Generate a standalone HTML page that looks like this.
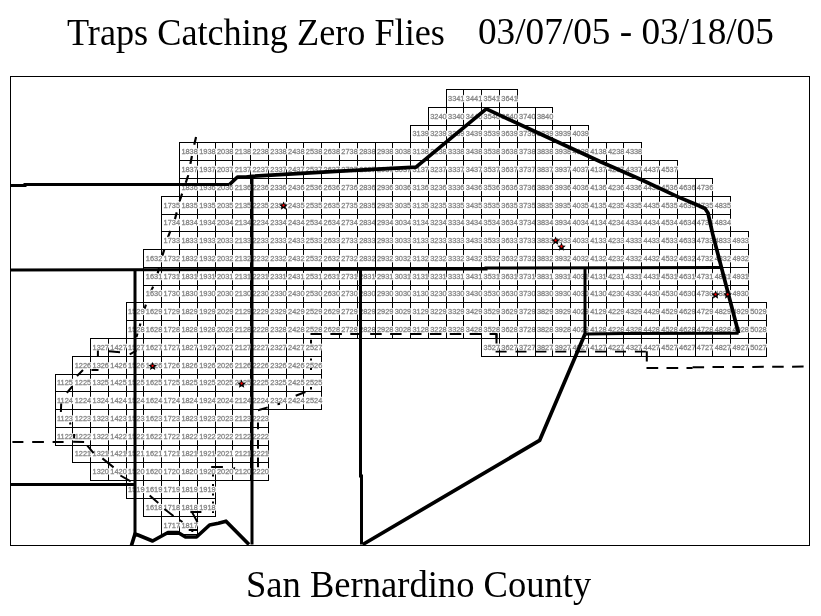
<!DOCTYPE html>
<html><head><meta charset="utf-8"><title>Traps Catching Zero Flies</title><style>
html,body{margin:0;padding:0;background:#fff;}
body{width:821px;height:616px;overflow:hidden;position:relative;}
.t{position:absolute;transform-origin:0 0;font-family:"Liberation Serif","Times New Roman",serif;color:#000;white-space:pre;line-height:1;}
svg{position:absolute;left:0;top:0;will-change:transform;}
</style></head><body>
<svg width="821" height="616" viewBox="0 0 821 616">
<rect x="10.5" y="76.5" width="799" height="469" fill="none" stroke="#000" stroke-width="1"/>
<path d="M446 89.5H518M446 107.5H518M446.5 89V108M463.5 89V108M481.5 89V108M499.5 89V108M517.5 89V108M428 107.5H553M428 125.5H553M428.5 107V126M446.5 107V126M463.5 107V126M481.5 107V126M499.5 107V126M517.5 107V126M535.5 107V126M552.5 107V126M410 125.5H589M410 142.5H589M410.5 125V143M428.5 125V143M446.5 125V143M463.5 125V143M481.5 125V143M499.5 125V143M517.5 125V143M535.5 125V143M552.5 125V143M570.5 125V143M588.5 125V143M179 142.5H642M179 160.5H642M179.5 142V161M197.5 142V161M215.5 142V161M232.5 142V161M250.5 142V161M268.5 142V161M286.5 142V161M303.5 142V161M321.5 142V161M339.5 142V161M357.5 142V161M375.5 142V161M392.5 142V161M410.5 142V161M428.5 142V161M446.5 142V161M463.5 142V161M481.5 142V161M499.5 142V161M517.5 142V161M535.5 142V161M552.5 142V161M570.5 142V161M588.5 142V161M606.5 142V161M623.5 142V161M641.5 142V161M179 160.5H678M179 178.5H678M179.5 160V179M197.5 160V179M215.5 160V179M232.5 160V179M250.5 160V179M268.5 160V179M286.5 160V179M303.5 160V179M321.5 160V179M339.5 160V179M357.5 160V179M375.5 160V179M392.5 160V179M410.5 160V179M428.5 160V179M446.5 160V179M463.5 160V179M481.5 160V179M499.5 160V179M517.5 160V179M535.5 160V179M552.5 160V179M570.5 160V179M588.5 160V179M606.5 160V179M623.5 160V179M641.5 160V179M659.5 160V179M677.5 160V179M179 178.5H713M179 196.5H713M179.5 178V197M197.5 178V197M215.5 178V197M232.5 178V197M250.5 178V197M268.5 178V197M286.5 178V197M303.5 178V197M321.5 178V197M339.5 178V197M357.5 178V197M375.5 178V197M392.5 178V197M410.5 178V197M428.5 178V197M446.5 178V197M463.5 178V197M481.5 178V197M499.5 178V197M517.5 178V197M535.5 178V197M552.5 178V197M570.5 178V197M588.5 178V197M606.5 178V197M623.5 178V197M641.5 178V197M659.5 178V197M677.5 178V197M695.5 178V197M712.5 178V197M161 196.5H731M161 214.5H731M161.5 196V215M179.5 196V215M197.5 196V215M215.5 196V215M232.5 196V215M250.5 196V215M268.5 196V215M286.5 196V215M303.5 196V215M321.5 196V215M339.5 196V215M357.5 196V215M375.5 196V215M392.5 196V215M410.5 196V215M428.5 196V215M446.5 196V215M463.5 196V215M481.5 196V215M499.5 196V215M517.5 196V215M535.5 196V215M552.5 196V215M570.5 196V215M588.5 196V215M606.5 196V215M623.5 196V215M641.5 196V215M659.5 196V215M677.5 196V215M695.5 196V215M712.5 196V215M730.5 196V215M161 214.5H731M161 231.5H731M161.5 214V232M179.5 214V232M197.5 214V232M215.5 214V232M232.5 214V232M250.5 214V232M268.5 214V232M286.5 214V232M303.5 214V232M321.5 214V232M339.5 214V232M357.5 214V232M375.5 214V232M392.5 214V232M410.5 214V232M428.5 214V232M446.5 214V232M463.5 214V232M481.5 214V232M499.5 214V232M517.5 214V232M535.5 214V232M552.5 214V232M570.5 214V232M588.5 214V232M606.5 214V232M623.5 214V232M641.5 214V232M659.5 214V232M677.5 214V232M695.5 214V232M712.5 214V232M730.5 214V232M161 231.5H749M161 249.5H749M161.5 231V250M179.5 231V250M197.5 231V250M215.5 231V250M232.5 231V250M250.5 231V250M268.5 231V250M286.5 231V250M303.5 231V250M321.5 231V250M339.5 231V250M357.5 231V250M375.5 231V250M392.5 231V250M410.5 231V250M428.5 231V250M446.5 231V250M463.5 231V250M481.5 231V250M499.5 231V250M517.5 231V250M535.5 231V250M552.5 231V250M570.5 231V250M588.5 231V250M606.5 231V250M623.5 231V250M641.5 231V250M659.5 231V250M677.5 231V250M695.5 231V250M712.5 231V250M730.5 231V250M748.5 231V250M143 249.5H749M143 267.5H749M143.5 249V268M161.5 249V268M179.5 249V268M197.5 249V268M215.5 249V268M232.5 249V268M250.5 249V268M268.5 249V268M286.5 249V268M303.5 249V268M321.5 249V268M339.5 249V268M357.5 249V268M375.5 249V268M392.5 249V268M410.5 249V268M428.5 249V268M446.5 249V268M463.5 249V268M481.5 249V268M499.5 249V268M517.5 249V268M535.5 249V268M552.5 249V268M570.5 249V268M588.5 249V268M606.5 249V268M623.5 249V268M641.5 249V268M659.5 249V268M677.5 249V268M695.5 249V268M712.5 249V268M730.5 249V268M748.5 249V268M143 267.5H749M143 285.5H749M143.5 267V286M161.5 267V286M179.5 267V286M197.5 267V286M215.5 267V286M232.5 267V286M250.5 267V286M268.5 267V286M286.5 267V286M303.5 267V286M321.5 267V286M339.5 267V286M357.5 267V286M375.5 267V286M392.5 267V286M410.5 267V286M428.5 267V286M446.5 267V286M463.5 267V286M481.5 267V286M499.5 267V286M517.5 267V286M535.5 267V286M552.5 267V286M570.5 267V286M588.5 267V286M606.5 267V286M623.5 267V286M641.5 267V286M659.5 267V286M677.5 267V286M695.5 267V286M712.5 267V286M730.5 267V286M748.5 267V286M143 285.5H749M143 302.5H749M143.5 285V303M161.5 285V303M179.5 285V303M197.5 285V303M215.5 285V303M232.5 285V303M250.5 285V303M268.5 285V303M286.5 285V303M303.5 285V303M321.5 285V303M339.5 285V303M357.5 285V303M375.5 285V303M392.5 285V303M410.5 285V303M428.5 285V303M446.5 285V303M463.5 285V303M481.5 285V303M499.5 285V303M517.5 285V303M535.5 285V303M552.5 285V303M570.5 285V303M588.5 285V303M606.5 285V303M623.5 285V303M641.5 285V303M659.5 285V303M677.5 285V303M695.5 285V303M712.5 285V303M730.5 285V303M748.5 285V303M126 302.5H767M126 320.5H767M126.5 302V321M143.5 302V321M161.5 302V321M179.5 302V321M197.5 302V321M215.5 302V321M232.5 302V321M250.5 302V321M268.5 302V321M286.5 302V321M303.5 302V321M321.5 302V321M339.5 302V321M357.5 302V321M375.5 302V321M392.5 302V321M410.5 302V321M428.5 302V321M446.5 302V321M463.5 302V321M481.5 302V321M499.5 302V321M517.5 302V321M535.5 302V321M552.5 302V321M570.5 302V321M588.5 302V321M606.5 302V321M623.5 302V321M641.5 302V321M659.5 302V321M677.5 302V321M695.5 302V321M712.5 302V321M730.5 302V321M748.5 302V321M766.5 302V321M126 320.5H767M126 338.5H767M126.5 320V339M143.5 320V339M161.5 320V339M179.5 320V339M197.5 320V339M215.5 320V339M232.5 320V339M250.5 320V339M268.5 320V339M286.5 320V339M303.5 320V339M321.5 320V339M339.5 320V339M357.5 320V339M375.5 320V339M392.5 320V339M410.5 320V339M428.5 320V339M446.5 320V339M463.5 320V339M481.5 320V339M499.5 320V339M517.5 320V339M535.5 320V339M552.5 320V339M570.5 320V339M588.5 320V339M606.5 320V339M623.5 320V339M641.5 320V339M659.5 320V339M677.5 320V339M695.5 320V339M712.5 320V339M730.5 320V339M748.5 320V339M766.5 320V339M90 338.5H322M90 356.5H322M90.5 338V357M108.5 338V357M126.5 338V357M143.5 338V357M161.5 338V357M179.5 338V357M197.5 338V357M215.5 338V357M232.5 338V357M250.5 338V357M268.5 338V357M286.5 338V357M303.5 338V357M321.5 338V357M481 338.5H767M481 356.5H767M481.5 338V357M499.5 338V357M517.5 338V357M535.5 338V357M552.5 338V357M570.5 338V357M588.5 338V357M606.5 338V357M623.5 338V357M641.5 338V357M659.5 338V357M677.5 338V357M695.5 338V357M712.5 338V357M730.5 338V357M748.5 338V357M766.5 338V357M72 356.5H322M72 374.5H322M72.5 356V375M90.5 356V375M108.5 356V375M126.5 356V375M143.5 356V375M161.5 356V375M179.5 356V375M197.5 356V375M215.5 356V375M232.5 356V375M250.5 356V375M268.5 356V375M286.5 356V375M303.5 356V375M321.5 356V375M55 374.5H322M55 391.5H322M55.5 374V392M72.5 374V392M90.5 374V392M108.5 374V392M126.5 374V392M143.5 374V392M161.5 374V392M179.5 374V392M197.5 374V392M215.5 374V392M232.5 374V392M250.5 374V392M268.5 374V392M286.5 374V392M303.5 374V392M321.5 374V392M55 391.5H322M55 409.5H322M55.5 391V410M72.5 391V410M90.5 391V410M108.5 391V410M126.5 391V410M143.5 391V410M161.5 391V410M179.5 391V410M197.5 391V410M215.5 391V410M232.5 391V410M250.5 391V410M268.5 391V410M286.5 391V410M303.5 391V410M321.5 391V410M55 409.5H269M55 427.5H269M55.5 409V428M72.5 409V428M90.5 409V428M108.5 409V428M126.5 409V428M143.5 409V428M161.5 409V428M179.5 409V428M197.5 409V428M215.5 409V428M232.5 409V428M250.5 409V428M268.5 409V428M55 427.5H269M55 445.5H269M55.5 427V446M72.5 427V446M90.5 427V446M108.5 427V446M126.5 427V446M143.5 427V446M161.5 427V446M179.5 427V446M197.5 427V446M215.5 427V446M232.5 427V446M250.5 427V446M268.5 427V446M72 445.5H269M72 462.5H269M72.5 445V463M90.5 445V463M108.5 445V463M126.5 445V463M143.5 445V463M161.5 445V463M179.5 445V463M197.5 445V463M215.5 445V463M232.5 445V463M250.5 445V463M268.5 445V463M90 462.5H269M90 480.5H269M90.5 462V481M108.5 462V481M126.5 462V481M143.5 462V481M161.5 462V481M179.5 462V481M197.5 462V481M215.5 462V481M232.5 462V481M250.5 462V481M268.5 462V481M126 480.5H216M126 498.5H216M126.5 480V499M143.5 480V499M161.5 480V499M179.5 480V499M197.5 480V499M215.5 480V499M143 498.5H216M143 516.5H216M143.5 498V517M161.5 498V517M179.5 498V517M197.5 498V517M215.5 498V517M161 516.5H198M161 534.5H198M161.5 516V535M179.5 516V535M197.5 516V535" stroke="#000" stroke-width="1" fill="none" shape-rendering="crispEdges"/>
<g fill="none" stroke="#000" stroke-width="2"><polyline points="196.5,135 193.5,148 188,176 180,200 175,219 168,237 162,257 155.6,281 148,298 142,317 137,337" stroke-dasharray="8 11.5" stroke-dashoffset="-2" stroke-width="2.2"/></g>
<g font-family="Liberation Sans, Arial, sans-serif" font-size="7.4" >
<g fill="#fff" stroke="#fff" stroke-width="2.4" stroke-linejoin="round"><text x="448.02" y="101">3341</text><text x="465.80" y="101">3441</text><text x="483.57" y="101">3541</text><text x="501.34" y="101">3641</text><text x="430.25" y="119">3240</text><text x="448.02" y="119">3340</text><text x="465.80" y="119">3440</text><text x="483.57" y="119">3540</text><text x="501.34" y="119">3640</text><text x="519.12" y="119">3740</text><text x="536.89" y="119">3840</text><text x="412.47" y="136">3139</text><text x="430.25" y="136">3239</text><text x="448.02" y="136">3339</text><text x="465.80" y="136">3439</text><text x="483.57" y="136">3539</text><text x="501.34" y="136">3639</text><text x="519.12" y="136">3739</text><text x="536.89" y="136">3839</text><text x="554.67" y="136">3939</text><text x="572.44" y="136">4039</text><text x="181.39" y="154">1838</text><text x="199.17" y="154">1938</text><text x="216.94" y="154">2038</text><text x="234.72" y="154">2138</text><text x="252.49" y="154">2238</text><text x="270.27" y="154">2338</text><text x="288.05" y="154">2438</text><text x="305.82" y="154">2538</text><text x="323.60" y="154">2638</text><text x="341.37" y="154">2738</text><text x="359.14" y="154">2838</text><text x="376.92" y="154">2938</text><text x="394.69" y="154">3038</text><text x="412.47" y="154">3138</text><text x="430.25" y="154">3238</text><text x="448.02" y="154">3338</text><text x="465.80" y="154">3438</text><text x="483.57" y="154">3538</text><text x="501.34" y="154">3638</text><text x="519.12" y="154">3738</text><text x="536.89" y="154">3838</text><text x="554.67" y="154">3938</text><text x="572.44" y="154">4038</text><text x="590.22" y="154">4138</text><text x="608.00" y="154">4238</text><text x="625.77" y="154">4338</text><text x="181.39" y="172">1837</text><text x="199.17" y="172">1937</text><text x="216.94" y="172">2037</text><text x="234.72" y="172">2137</text><text x="252.49" y="172">2237</text><text x="270.27" y="172">2337</text><text x="288.05" y="172">2437</text><text x="305.82" y="172">2537</text><text x="323.60" y="172">2637</text><text x="341.37" y="172">2737</text><text x="359.14" y="172">2837</text><text x="376.92" y="172">2937</text><text x="394.69" y="172">3037</text><text x="412.47" y="172">3137</text><text x="430.25" y="172">3237</text><text x="448.02" y="172">3337</text><text x="465.80" y="172">3437</text><text x="483.57" y="172">3537</text><text x="501.34" y="172">3637</text><text x="519.12" y="172">3737</text><text x="536.89" y="172">3837</text><text x="554.67" y="172">3937</text><text x="572.44" y="172">4037</text><text x="590.22" y="172">4137</text><text x="608.00" y="172">4237</text><text x="625.77" y="172">4337</text><text x="643.54" y="172">4437</text><text x="661.32" y="172">4537</text><text x="181.39" y="190">1836</text><text x="199.17" y="190">1936</text><text x="216.94" y="190">2036</text><text x="234.72" y="190">2136</text><text x="252.49" y="190">2236</text><text x="270.27" y="190">2336</text><text x="288.05" y="190">2436</text><text x="305.82" y="190">2536</text><text x="323.60" y="190">2636</text><text x="341.37" y="190">2736</text><text x="359.14" y="190">2836</text><text x="376.92" y="190">2936</text><text x="394.69" y="190">3036</text><text x="412.47" y="190">3136</text><text x="430.25" y="190">3236</text><text x="448.02" y="190">3336</text><text x="465.80" y="190">3436</text><text x="483.57" y="190">3536</text><text x="501.34" y="190">3636</text><text x="519.12" y="190">3736</text><text x="536.89" y="190">3836</text><text x="554.67" y="190">3936</text><text x="572.44" y="190">4036</text><text x="590.22" y="190">4136</text><text x="608.00" y="190">4236</text><text x="625.77" y="190">4336</text><text x="643.54" y="190">4436</text><text x="661.32" y="190">4536</text><text x="679.10" y="190">4636</text><text x="696.87" y="190">4736</text><text x="163.62" y="208">1735</text><text x="181.39" y="208">1835</text><text x="199.17" y="208">1935</text><text x="216.94" y="208">2035</text><text x="234.72" y="208">2135</text><text x="252.49" y="208">2235</text><text x="270.27" y="208">2335</text><text x="288.05" y="208">2435</text><text x="305.82" y="208">2535</text><text x="323.60" y="208">2635</text><text x="341.37" y="208">2735</text><text x="359.14" y="208">2835</text><text x="376.92" y="208">2935</text><text x="394.69" y="208">3035</text><text x="412.47" y="208">3135</text><text x="430.25" y="208">3235</text><text x="448.02" y="208">3335</text><text x="465.80" y="208">3435</text><text x="483.57" y="208">3535</text><text x="501.34" y="208">3635</text><text x="519.12" y="208">3735</text><text x="536.89" y="208">3835</text><text x="554.67" y="208">3935</text><text x="572.44" y="208">4035</text><text x="590.22" y="208">4135</text><text x="608.00" y="208">4235</text><text x="625.77" y="208">4335</text><text x="643.54" y="208">4435</text><text x="661.32" y="208">4535</text><text x="679.10" y="208">4635</text><text x="696.87" y="208">4735</text><text x="714.64" y="208">4835</text><text x="163.62" y="225">1734</text><text x="181.39" y="225">1834</text><text x="199.17" y="225">1934</text><text x="216.94" y="225">2034</text><text x="234.72" y="225">2134</text><text x="252.49" y="225">2234</text><text x="270.27" y="225">2334</text><text x="288.05" y="225">2434</text><text x="305.82" y="225">2534</text><text x="323.60" y="225">2634</text><text x="341.37" y="225">2734</text><text x="359.14" y="225">2834</text><text x="376.92" y="225">2934</text><text x="394.69" y="225">3034</text><text x="412.47" y="225">3134</text><text x="430.25" y="225">3234</text><text x="448.02" y="225">3334</text><text x="465.80" y="225">3434</text><text x="483.57" y="225">3534</text><text x="501.34" y="225">3634</text><text x="519.12" y="225">3734</text><text x="536.89" y="225">3834</text><text x="554.67" y="225">3934</text><text x="572.44" y="225">4034</text><text x="590.22" y="225">4134</text><text x="608.00" y="225">4234</text><text x="625.77" y="225">4334</text><text x="643.54" y="225">4434</text><text x="661.32" y="225">4534</text><text x="679.10" y="225">4634</text><text x="696.87" y="225">4734</text><text x="714.64" y="225">4834</text><text x="163.62" y="243">1733</text><text x="181.39" y="243">1833</text><text x="199.17" y="243">1933</text><text x="216.94" y="243">2033</text><text x="234.72" y="243">2133</text><text x="252.49" y="243">2233</text><text x="270.27" y="243">2333</text><text x="288.05" y="243">2433</text><text x="305.82" y="243">2533</text><text x="323.60" y="243">2633</text><text x="341.37" y="243">2733</text><text x="359.14" y="243">2833</text><text x="376.92" y="243">2933</text><text x="394.69" y="243">3033</text><text x="412.47" y="243">3133</text><text x="430.25" y="243">3233</text><text x="448.02" y="243">3333</text><text x="465.80" y="243">3433</text><text x="483.57" y="243">3533</text><text x="501.34" y="243">3633</text><text x="519.12" y="243">3733</text><text x="536.89" y="243">3833</text><text x="554.67" y="243">3933</text><text x="572.44" y="243">4033</text><text x="590.22" y="243">4133</text><text x="608.00" y="243">4233</text><text x="625.77" y="243">4333</text><text x="643.54" y="243">4433</text><text x="661.32" y="243">4533</text><text x="679.10" y="243">4633</text><text x="696.87" y="243">4733</text><text x="714.64" y="243">4833</text><text x="732.42" y="243">4933</text><text x="145.84" y="261">1632</text><text x="163.62" y="261">1732</text><text x="181.39" y="261">1832</text><text x="199.17" y="261">1932</text><text x="216.94" y="261">2032</text><text x="234.72" y="261">2132</text><text x="252.49" y="261">2232</text><text x="270.27" y="261">2332</text><text x="288.05" y="261">2432</text><text x="305.82" y="261">2532</text><text x="323.60" y="261">2632</text><text x="341.37" y="261">2732</text><text x="359.14" y="261">2832</text><text x="376.92" y="261">2932</text><text x="394.69" y="261">3032</text><text x="412.47" y="261">3132</text><text x="430.25" y="261">3232</text><text x="448.02" y="261">3332</text><text x="465.80" y="261">3432</text><text x="483.57" y="261">3532</text><text x="501.34" y="261">3632</text><text x="519.12" y="261">3732</text><text x="536.89" y="261">3832</text><text x="554.67" y="261">3932</text><text x="572.44" y="261">4032</text><text x="590.22" y="261">4132</text><text x="608.00" y="261">4232</text><text x="625.77" y="261">4332</text><text x="643.54" y="261">4432</text><text x="661.32" y="261">4532</text><text x="679.10" y="261">4632</text><text x="696.87" y="261">4732</text><text x="714.64" y="261">4832</text><text x="732.42" y="261">4932</text><text x="145.84" y="279">1631</text><text x="163.62" y="279">1731</text><text x="181.39" y="279">1831</text><text x="199.17" y="279">1931</text><text x="216.94" y="279">2031</text><text x="234.72" y="279">2131</text><text x="252.49" y="279">2231</text><text x="270.27" y="279">2331</text><text x="288.05" y="279">2431</text><text x="305.82" y="279">2531</text><text x="323.60" y="279">2631</text><text x="341.37" y="279">2731</text><text x="359.14" y="279">2831</text><text x="376.92" y="279">2931</text><text x="394.69" y="279">3031</text><text x="412.47" y="279">3131</text><text x="430.25" y="279">3231</text><text x="448.02" y="279">3331</text><text x="465.80" y="279">3431</text><text x="483.57" y="279">3531</text><text x="501.34" y="279">3631</text><text x="519.12" y="279">3731</text><text x="536.89" y="279">3831</text><text x="554.67" y="279">3931</text><text x="572.44" y="279">4031</text><text x="590.22" y="279">4131</text><text x="608.00" y="279">4231</text><text x="625.77" y="279">4331</text><text x="643.54" y="279">4431</text><text x="661.32" y="279">4531</text><text x="679.10" y="279">4631</text><text x="696.87" y="279">4731</text><text x="714.64" y="279">4831</text><text x="732.42" y="279">4931</text><text x="145.84" y="296">1630</text><text x="163.62" y="296">1730</text><text x="181.39" y="296">1830</text><text x="199.17" y="296">1930</text><text x="216.94" y="296">2030</text><text x="234.72" y="296">2130</text><text x="252.49" y="296">2230</text><text x="270.27" y="296">2330</text><text x="288.05" y="296">2430</text><text x="305.82" y="296">2530</text><text x="323.60" y="296">2630</text><text x="341.37" y="296">2730</text><text x="359.14" y="296">2830</text><text x="376.92" y="296">2930</text><text x="394.69" y="296">3030</text><text x="412.47" y="296">3130</text><text x="430.25" y="296">3230</text><text x="448.02" y="296">3330</text><text x="465.80" y="296">3430</text><text x="483.57" y="296">3530</text><text x="501.34" y="296">3630</text><text x="519.12" y="296">3730</text><text x="536.89" y="296">3830</text><text x="554.67" y="296">3930</text><text x="572.44" y="296">4030</text><text x="590.22" y="296">4130</text><text x="608.00" y="296">4230</text><text x="625.77" y="296">4330</text><text x="643.54" y="296">4430</text><text x="661.32" y="296">4530</text><text x="679.10" y="296">4630</text><text x="696.87" y="296">4730</text><text x="714.64" y="296">4830</text><text x="732.42" y="296">4930</text><text x="128.07" y="314">1529</text><text x="145.84" y="314">1629</text><text x="163.62" y="314">1729</text><text x="181.39" y="314">1829</text><text x="199.17" y="314">1929</text><text x="216.94" y="314">2029</text><text x="234.72" y="314">2129</text><text x="252.49" y="314">2229</text><text x="270.27" y="314">2329</text><text x="288.05" y="314">2429</text><text x="305.82" y="314">2529</text><text x="323.60" y="314">2629</text><text x="341.37" y="314">2729</text><text x="359.14" y="314">2829</text><text x="376.92" y="314">2929</text><text x="394.69" y="314">3029</text><text x="412.47" y="314">3129</text><text x="430.25" y="314">3229</text><text x="448.02" y="314">3329</text><text x="465.80" y="314">3429</text><text x="483.57" y="314">3529</text><text x="501.34" y="314">3629</text><text x="519.12" y="314">3729</text><text x="536.89" y="314">3829</text><text x="554.67" y="314">3929</text><text x="572.44" y="314">4029</text><text x="590.22" y="314">4129</text><text x="608.00" y="314">4229</text><text x="625.77" y="314">4329</text><text x="643.54" y="314">4429</text><text x="661.32" y="314">4529</text><text x="679.10" y="314">4629</text><text x="696.87" y="314">4729</text><text x="714.64" y="314">4829</text><text x="732.42" y="314">4929</text><text x="750.19" y="314">5029</text><text x="128.07" y="332">1528</text><text x="145.84" y="332">1628</text><text x="163.62" y="332">1728</text><text x="181.39" y="332">1828</text><text x="199.17" y="332">1928</text><text x="216.94" y="332">2028</text><text x="234.72" y="332">2128</text><text x="252.49" y="332">2228</text><text x="270.27" y="332">2328</text><text x="288.05" y="332">2428</text><text x="305.82" y="332">2528</text><text x="323.60" y="332">2628</text><text x="341.37" y="332">2728</text><text x="359.14" y="332">2828</text><text x="376.92" y="332">2928</text><text x="394.69" y="332">3028</text><text x="412.47" y="332">3128</text><text x="430.25" y="332">3228</text><text x="448.02" y="332">3328</text><text x="465.80" y="332">3428</text><text x="483.57" y="332">3528</text><text x="501.34" y="332">3628</text><text x="519.12" y="332">3728</text><text x="536.89" y="332">3828</text><text x="554.67" y="332">3928</text><text x="572.44" y="332">4028</text><text x="590.22" y="332">4128</text><text x="608.00" y="332">4228</text><text x="625.77" y="332">4328</text><text x="643.54" y="332">4428</text><text x="661.32" y="332">4528</text><text x="679.10" y="332">4628</text><text x="696.87" y="332">4728</text><text x="714.64" y="332">4828</text><text x="732.42" y="332">4928</text><text x="750.19" y="332">5028</text><text x="92.52" y="350">1327</text><text x="110.30" y="350">1427</text><text x="128.07" y="350">1527</text><text x="145.84" y="350">1627</text><text x="163.62" y="350">1727</text><text x="181.39" y="350">1827</text><text x="199.17" y="350">1927</text><text x="216.94" y="350">2027</text><text x="234.72" y="350">2127</text><text x="252.49" y="350">2227</text><text x="270.27" y="350">2327</text><text x="288.05" y="350">2427</text><text x="305.82" y="350">2527</text><text x="483.57" y="350">3527</text><text x="501.34" y="350">3627</text><text x="519.12" y="350">3727</text><text x="536.89" y="350">3827</text><text x="554.67" y="350">3927</text><text x="572.44" y="350">4027</text><text x="590.22" y="350">4127</text><text x="608.00" y="350">4227</text><text x="625.77" y="350">4327</text><text x="643.54" y="350">4427</text><text x="661.32" y="350">4527</text><text x="679.10" y="350">4627</text><text x="696.87" y="350">4727</text><text x="714.64" y="350">4827</text><text x="732.42" y="350">4927</text><text x="750.19" y="350">5027</text><text x="74.75" y="368">1226</text><text x="92.52" y="368">1326</text><text x="110.30" y="368">1426</text><text x="128.07" y="368">1526</text><text x="145.84" y="368">1626</text><text x="163.62" y="368">1726</text><text x="181.39" y="368">1826</text><text x="199.17" y="368">1926</text><text x="216.94" y="368">2026</text><text x="234.72" y="368">2126</text><text x="252.49" y="368">2226</text><text x="270.27" y="368">2326</text><text x="288.05" y="368">2426</text><text x="305.82" y="368">2526</text><text x="56.97" y="385">1125</text><text x="74.75" y="385">1225</text><text x="92.52" y="385">1325</text><text x="110.30" y="385">1425</text><text x="128.07" y="385">1525</text><text x="145.84" y="385">1625</text><text x="163.62" y="385">1725</text><text x="181.39" y="385">1825</text><text x="199.17" y="385">1925</text><text x="216.94" y="385">2025</text><text x="234.72" y="385">2125</text><text x="252.49" y="385">2225</text><text x="270.27" y="385">2325</text><text x="288.05" y="385">2425</text><text x="305.82" y="385">2525</text><text x="56.97" y="403">1124</text><text x="74.75" y="403">1224</text><text x="92.52" y="403">1324</text><text x="110.30" y="403">1424</text><text x="128.07" y="403">1524</text><text x="145.84" y="403">1624</text><text x="163.62" y="403">1724</text><text x="181.39" y="403">1824</text><text x="199.17" y="403">1924</text><text x="216.94" y="403">2024</text><text x="234.72" y="403">2124</text><text x="252.49" y="403">2224</text><text x="270.27" y="403">2324</text><text x="288.05" y="403">2424</text><text x="305.82" y="403">2524</text><text x="56.97" y="421">1123</text><text x="74.75" y="421">1223</text><text x="92.52" y="421">1323</text><text x="110.30" y="421">1423</text><text x="128.07" y="421">1523</text><text x="145.84" y="421">1623</text><text x="163.62" y="421">1723</text><text x="181.39" y="421">1823</text><text x="199.17" y="421">1923</text><text x="216.94" y="421">2023</text><text x="234.72" y="421">2123</text><text x="252.49" y="421">2223</text><text x="56.97" y="439">1122</text><text x="74.75" y="439">1222</text><text x="92.52" y="439">1322</text><text x="110.30" y="439">1422</text><text x="128.07" y="439">1522</text><text x="145.84" y="439">1622</text><text x="163.62" y="439">1722</text><text x="181.39" y="439">1822</text><text x="199.17" y="439">1922</text><text x="216.94" y="439">2022</text><text x="234.72" y="439">2122</text><text x="252.49" y="439">2222</text><text x="74.75" y="456">1221</text><text x="92.52" y="456">1321</text><text x="110.30" y="456">1421</text><text x="128.07" y="456">1521</text><text x="145.84" y="456">1621</text><text x="163.62" y="456">1721</text><text x="181.39" y="456">1821</text><text x="199.17" y="456">1921</text><text x="216.94" y="456">2021</text><text x="234.72" y="456">2121</text><text x="252.49" y="456">2221</text><text x="92.52" y="474">1320</text><text x="110.30" y="474">1420</text><text x="128.07" y="474">1520</text><text x="145.84" y="474">1620</text><text x="163.62" y="474">1720</text><text x="181.39" y="474">1820</text><text x="199.17" y="474">1920</text><text x="216.94" y="474">2020</text><text x="234.72" y="474">2120</text><text x="252.49" y="474">2220</text><text x="128.07" y="492">1519</text><text x="145.84" y="492">1619</text><text x="163.62" y="492">1719</text><text x="181.39" y="492">1819</text><text x="199.17" y="492">1919</text><text x="145.84" y="510">1618</text><text x="163.62" y="510">1718</text><text x="181.39" y="510">1818</text><text x="199.17" y="510">1918</text><text x="163.62" y="528">1717</text><text x="181.39" y="528">1817</text></g>
<g fill="#878787" stroke="#878787" stroke-width="0.3"><text x="448.02" y="101">3341</text><text x="465.80" y="101">3441</text><text x="483.57" y="101">3541</text><text x="501.34" y="101">3641</text><text x="430.25" y="119">3240</text><text x="448.02" y="119">3340</text><text x="465.80" y="119">3440</text><text x="483.57" y="119">3540</text><text x="501.34" y="119">3640</text><text x="519.12" y="119">3740</text><text x="536.89" y="119">3840</text><text x="412.47" y="136">3139</text><text x="430.25" y="136">3239</text><text x="448.02" y="136">3339</text><text x="465.80" y="136">3439</text><text x="483.57" y="136">3539</text><text x="501.34" y="136">3639</text><text x="519.12" y="136">3739</text><text x="536.89" y="136">3839</text><text x="554.67" y="136">3939</text><text x="572.44" y="136">4039</text><text x="181.39" y="154">1838</text><text x="199.17" y="154">1938</text><text x="216.94" y="154">2038</text><text x="234.72" y="154">2138</text><text x="252.49" y="154">2238</text><text x="270.27" y="154">2338</text><text x="288.05" y="154">2438</text><text x="305.82" y="154">2538</text><text x="323.60" y="154">2638</text><text x="341.37" y="154">2738</text><text x="359.14" y="154">2838</text><text x="376.92" y="154">2938</text><text x="394.69" y="154">3038</text><text x="412.47" y="154">3138</text><text x="430.25" y="154">3238</text><text x="448.02" y="154">3338</text><text x="465.80" y="154">3438</text><text x="483.57" y="154">3538</text><text x="501.34" y="154">3638</text><text x="519.12" y="154">3738</text><text x="536.89" y="154">3838</text><text x="554.67" y="154">3938</text><text x="572.44" y="154">4038</text><text x="590.22" y="154">4138</text><text x="608.00" y="154">4238</text><text x="625.77" y="154">4338</text><text x="181.39" y="172">1837</text><text x="199.17" y="172">1937</text><text x="216.94" y="172">2037</text><text x="234.72" y="172">2137</text><text x="252.49" y="172">2237</text><text x="270.27" y="172">2337</text><text x="288.05" y="172">2437</text><text x="305.82" y="172">2537</text><text x="323.60" y="172">2637</text><text x="341.37" y="172">2737</text><text x="359.14" y="172">2837</text><text x="376.92" y="172">2937</text><text x="394.69" y="172">3037</text><text x="412.47" y="172">3137</text><text x="430.25" y="172">3237</text><text x="448.02" y="172">3337</text><text x="465.80" y="172">3437</text><text x="483.57" y="172">3537</text><text x="501.34" y="172">3637</text><text x="519.12" y="172">3737</text><text x="536.89" y="172">3837</text><text x="554.67" y="172">3937</text><text x="572.44" y="172">4037</text><text x="590.22" y="172">4137</text><text x="608.00" y="172">4237</text><text x="625.77" y="172">4337</text><text x="643.54" y="172">4437</text><text x="661.32" y="172">4537</text><text x="181.39" y="190">1836</text><text x="199.17" y="190">1936</text><text x="216.94" y="190">2036</text><text x="234.72" y="190">2136</text><text x="252.49" y="190">2236</text><text x="270.27" y="190">2336</text><text x="288.05" y="190">2436</text><text x="305.82" y="190">2536</text><text x="323.60" y="190">2636</text><text x="341.37" y="190">2736</text><text x="359.14" y="190">2836</text><text x="376.92" y="190">2936</text><text x="394.69" y="190">3036</text><text x="412.47" y="190">3136</text><text x="430.25" y="190">3236</text><text x="448.02" y="190">3336</text><text x="465.80" y="190">3436</text><text x="483.57" y="190">3536</text><text x="501.34" y="190">3636</text><text x="519.12" y="190">3736</text><text x="536.89" y="190">3836</text><text x="554.67" y="190">3936</text><text x="572.44" y="190">4036</text><text x="590.22" y="190">4136</text><text x="608.00" y="190">4236</text><text x="625.77" y="190">4336</text><text x="643.54" y="190">4436</text><text x="661.32" y="190">4536</text><text x="679.10" y="190">4636</text><text x="696.87" y="190">4736</text><text x="163.62" y="208">1735</text><text x="181.39" y="208">1835</text><text x="199.17" y="208">1935</text><text x="216.94" y="208">2035</text><text x="234.72" y="208">2135</text><text x="252.49" y="208">2235</text><text x="270.27" y="208">2335</text><text x="288.05" y="208">2435</text><text x="305.82" y="208">2535</text><text x="323.60" y="208">2635</text><text x="341.37" y="208">2735</text><text x="359.14" y="208">2835</text><text x="376.92" y="208">2935</text><text x="394.69" y="208">3035</text><text x="412.47" y="208">3135</text><text x="430.25" y="208">3235</text><text x="448.02" y="208">3335</text><text x="465.80" y="208">3435</text><text x="483.57" y="208">3535</text><text x="501.34" y="208">3635</text><text x="519.12" y="208">3735</text><text x="536.89" y="208">3835</text><text x="554.67" y="208">3935</text><text x="572.44" y="208">4035</text><text x="590.22" y="208">4135</text><text x="608.00" y="208">4235</text><text x="625.77" y="208">4335</text><text x="643.54" y="208">4435</text><text x="661.32" y="208">4535</text><text x="679.10" y="208">4635</text><text x="696.87" y="208">4735</text><text x="714.64" y="208">4835</text><text x="163.62" y="225">1734</text><text x="181.39" y="225">1834</text><text x="199.17" y="225">1934</text><text x="216.94" y="225">2034</text><text x="234.72" y="225">2134</text><text x="252.49" y="225">2234</text><text x="270.27" y="225">2334</text><text x="288.05" y="225">2434</text><text x="305.82" y="225">2534</text><text x="323.60" y="225">2634</text><text x="341.37" y="225">2734</text><text x="359.14" y="225">2834</text><text x="376.92" y="225">2934</text><text x="394.69" y="225">3034</text><text x="412.47" y="225">3134</text><text x="430.25" y="225">3234</text><text x="448.02" y="225">3334</text><text x="465.80" y="225">3434</text><text x="483.57" y="225">3534</text><text x="501.34" y="225">3634</text><text x="519.12" y="225">3734</text><text x="536.89" y="225">3834</text><text x="554.67" y="225">3934</text><text x="572.44" y="225">4034</text><text x="590.22" y="225">4134</text><text x="608.00" y="225">4234</text><text x="625.77" y="225">4334</text><text x="643.54" y="225">4434</text><text x="661.32" y="225">4534</text><text x="679.10" y="225">4634</text><text x="696.87" y="225">4734</text><text x="714.64" y="225">4834</text><text x="163.62" y="243">1733</text><text x="181.39" y="243">1833</text><text x="199.17" y="243">1933</text><text x="216.94" y="243">2033</text><text x="234.72" y="243">2133</text><text x="252.49" y="243">2233</text><text x="270.27" y="243">2333</text><text x="288.05" y="243">2433</text><text x="305.82" y="243">2533</text><text x="323.60" y="243">2633</text><text x="341.37" y="243">2733</text><text x="359.14" y="243">2833</text><text x="376.92" y="243">2933</text><text x="394.69" y="243">3033</text><text x="412.47" y="243">3133</text><text x="430.25" y="243">3233</text><text x="448.02" y="243">3333</text><text x="465.80" y="243">3433</text><text x="483.57" y="243">3533</text><text x="501.34" y="243">3633</text><text x="519.12" y="243">3733</text><text x="536.89" y="243">3833</text><text x="554.67" y="243">3933</text><text x="572.44" y="243">4033</text><text x="590.22" y="243">4133</text><text x="608.00" y="243">4233</text><text x="625.77" y="243">4333</text><text x="643.54" y="243">4433</text><text x="661.32" y="243">4533</text><text x="679.10" y="243">4633</text><text x="696.87" y="243">4733</text><text x="714.64" y="243">4833</text><text x="732.42" y="243">4933</text><text x="145.84" y="261">1632</text><text x="163.62" y="261">1732</text><text x="181.39" y="261">1832</text><text x="199.17" y="261">1932</text><text x="216.94" y="261">2032</text><text x="234.72" y="261">2132</text><text x="252.49" y="261">2232</text><text x="270.27" y="261">2332</text><text x="288.05" y="261">2432</text><text x="305.82" y="261">2532</text><text x="323.60" y="261">2632</text><text x="341.37" y="261">2732</text><text x="359.14" y="261">2832</text><text x="376.92" y="261">2932</text><text x="394.69" y="261">3032</text><text x="412.47" y="261">3132</text><text x="430.25" y="261">3232</text><text x="448.02" y="261">3332</text><text x="465.80" y="261">3432</text><text x="483.57" y="261">3532</text><text x="501.34" y="261">3632</text><text x="519.12" y="261">3732</text><text x="536.89" y="261">3832</text><text x="554.67" y="261">3932</text><text x="572.44" y="261">4032</text><text x="590.22" y="261">4132</text><text x="608.00" y="261">4232</text><text x="625.77" y="261">4332</text><text x="643.54" y="261">4432</text><text x="661.32" y="261">4532</text><text x="679.10" y="261">4632</text><text x="696.87" y="261">4732</text><text x="714.64" y="261">4832</text><text x="732.42" y="261">4932</text><text x="145.84" y="279">1631</text><text x="163.62" y="279">1731</text><text x="181.39" y="279">1831</text><text x="199.17" y="279">1931</text><text x="216.94" y="279">2031</text><text x="234.72" y="279">2131</text><text x="252.49" y="279">2231</text><text x="270.27" y="279">2331</text><text x="288.05" y="279">2431</text><text x="305.82" y="279">2531</text><text x="323.60" y="279">2631</text><text x="341.37" y="279">2731</text><text x="359.14" y="279">2831</text><text x="376.92" y="279">2931</text><text x="394.69" y="279">3031</text><text x="412.47" y="279">3131</text><text x="430.25" y="279">3231</text><text x="448.02" y="279">3331</text><text x="465.80" y="279">3431</text><text x="483.57" y="279">3531</text><text x="501.34" y="279">3631</text><text x="519.12" y="279">3731</text><text x="536.89" y="279">3831</text><text x="554.67" y="279">3931</text><text x="572.44" y="279">4031</text><text x="590.22" y="279">4131</text><text x="608.00" y="279">4231</text><text x="625.77" y="279">4331</text><text x="643.54" y="279">4431</text><text x="661.32" y="279">4531</text><text x="679.10" y="279">4631</text><text x="696.87" y="279">4731</text><text x="714.64" y="279">4831</text><text x="732.42" y="279">4931</text><text x="145.84" y="296">1630</text><text x="163.62" y="296">1730</text><text x="181.39" y="296">1830</text><text x="199.17" y="296">1930</text><text x="216.94" y="296">2030</text><text x="234.72" y="296">2130</text><text x="252.49" y="296">2230</text><text x="270.27" y="296">2330</text><text x="288.05" y="296">2430</text><text x="305.82" y="296">2530</text><text x="323.60" y="296">2630</text><text x="341.37" y="296">2730</text><text x="359.14" y="296">2830</text><text x="376.92" y="296">2930</text><text x="394.69" y="296">3030</text><text x="412.47" y="296">3130</text><text x="430.25" y="296">3230</text><text x="448.02" y="296">3330</text><text x="465.80" y="296">3430</text><text x="483.57" y="296">3530</text><text x="501.34" y="296">3630</text><text x="519.12" y="296">3730</text><text x="536.89" y="296">3830</text><text x="554.67" y="296">3930</text><text x="572.44" y="296">4030</text><text x="590.22" y="296">4130</text><text x="608.00" y="296">4230</text><text x="625.77" y="296">4330</text><text x="643.54" y="296">4430</text><text x="661.32" y="296">4530</text><text x="679.10" y="296">4630</text><text x="696.87" y="296">4730</text><text x="714.64" y="296">4830</text><text x="732.42" y="296">4930</text><text x="128.07" y="314">1529</text><text x="145.84" y="314">1629</text><text x="163.62" y="314">1729</text><text x="181.39" y="314">1829</text><text x="199.17" y="314">1929</text><text x="216.94" y="314">2029</text><text x="234.72" y="314">2129</text><text x="252.49" y="314">2229</text><text x="270.27" y="314">2329</text><text x="288.05" y="314">2429</text><text x="305.82" y="314">2529</text><text x="323.60" y="314">2629</text><text x="341.37" y="314">2729</text><text x="359.14" y="314">2829</text><text x="376.92" y="314">2929</text><text x="394.69" y="314">3029</text><text x="412.47" y="314">3129</text><text x="430.25" y="314">3229</text><text x="448.02" y="314">3329</text><text x="465.80" y="314">3429</text><text x="483.57" y="314">3529</text><text x="501.34" y="314">3629</text><text x="519.12" y="314">3729</text><text x="536.89" y="314">3829</text><text x="554.67" y="314">3929</text><text x="572.44" y="314">4029</text><text x="590.22" y="314">4129</text><text x="608.00" y="314">4229</text><text x="625.77" y="314">4329</text><text x="643.54" y="314">4429</text><text x="661.32" y="314">4529</text><text x="679.10" y="314">4629</text><text x="696.87" y="314">4729</text><text x="714.64" y="314">4829</text><text x="732.42" y="314">4929</text><text x="750.19" y="314">5029</text><text x="128.07" y="332">1528</text><text x="145.84" y="332">1628</text><text x="163.62" y="332">1728</text><text x="181.39" y="332">1828</text><text x="199.17" y="332">1928</text><text x="216.94" y="332">2028</text><text x="234.72" y="332">2128</text><text x="252.49" y="332">2228</text><text x="270.27" y="332">2328</text><text x="288.05" y="332">2428</text><text x="305.82" y="332">2528</text><text x="323.60" y="332">2628</text><text x="341.37" y="332">2728</text><text x="359.14" y="332">2828</text><text x="376.92" y="332">2928</text><text x="394.69" y="332">3028</text><text x="412.47" y="332">3128</text><text x="430.25" y="332">3228</text><text x="448.02" y="332">3328</text><text x="465.80" y="332">3428</text><text x="483.57" y="332">3528</text><text x="501.34" y="332">3628</text><text x="519.12" y="332">3728</text><text x="536.89" y="332">3828</text><text x="554.67" y="332">3928</text><text x="572.44" y="332">4028</text><text x="590.22" y="332">4128</text><text x="608.00" y="332">4228</text><text x="625.77" y="332">4328</text><text x="643.54" y="332">4428</text><text x="661.32" y="332">4528</text><text x="679.10" y="332">4628</text><text x="696.87" y="332">4728</text><text x="714.64" y="332">4828</text><text x="732.42" y="332">4928</text><text x="750.19" y="332">5028</text><text x="92.52" y="350">1327</text><text x="110.30" y="350">1427</text><text x="128.07" y="350">1527</text><text x="145.84" y="350">1627</text><text x="163.62" y="350">1727</text><text x="181.39" y="350">1827</text><text x="199.17" y="350">1927</text><text x="216.94" y="350">2027</text><text x="234.72" y="350">2127</text><text x="252.49" y="350">2227</text><text x="270.27" y="350">2327</text><text x="288.05" y="350">2427</text><text x="305.82" y="350">2527</text><text x="483.57" y="350">3527</text><text x="501.34" y="350">3627</text><text x="519.12" y="350">3727</text><text x="536.89" y="350">3827</text><text x="554.67" y="350">3927</text><text x="572.44" y="350">4027</text><text x="590.22" y="350">4127</text><text x="608.00" y="350">4227</text><text x="625.77" y="350">4327</text><text x="643.54" y="350">4427</text><text x="661.32" y="350">4527</text><text x="679.10" y="350">4627</text><text x="696.87" y="350">4727</text><text x="714.64" y="350">4827</text><text x="732.42" y="350">4927</text><text x="750.19" y="350">5027</text><text x="74.75" y="368">1226</text><text x="92.52" y="368">1326</text><text x="110.30" y="368">1426</text><text x="128.07" y="368">1526</text><text x="145.84" y="368">1626</text><text x="163.62" y="368">1726</text><text x="181.39" y="368">1826</text><text x="199.17" y="368">1926</text><text x="216.94" y="368">2026</text><text x="234.72" y="368">2126</text><text x="252.49" y="368">2226</text><text x="270.27" y="368">2326</text><text x="288.05" y="368">2426</text><text x="305.82" y="368">2526</text><text x="56.97" y="385">1125</text><text x="74.75" y="385">1225</text><text x="92.52" y="385">1325</text><text x="110.30" y="385">1425</text><text x="128.07" y="385">1525</text><text x="145.84" y="385">1625</text><text x="163.62" y="385">1725</text><text x="181.39" y="385">1825</text><text x="199.17" y="385">1925</text><text x="216.94" y="385">2025</text><text x="234.72" y="385">2125</text><text x="252.49" y="385">2225</text><text x="270.27" y="385">2325</text><text x="288.05" y="385">2425</text><text x="305.82" y="385">2525</text><text x="56.97" y="403">1124</text><text x="74.75" y="403">1224</text><text x="92.52" y="403">1324</text><text x="110.30" y="403">1424</text><text x="128.07" y="403">1524</text><text x="145.84" y="403">1624</text><text x="163.62" y="403">1724</text><text x="181.39" y="403">1824</text><text x="199.17" y="403">1924</text><text x="216.94" y="403">2024</text><text x="234.72" y="403">2124</text><text x="252.49" y="403">2224</text><text x="270.27" y="403">2324</text><text x="288.05" y="403">2424</text><text x="305.82" y="403">2524</text><text x="56.97" y="421">1123</text><text x="74.75" y="421">1223</text><text x="92.52" y="421">1323</text><text x="110.30" y="421">1423</text><text x="128.07" y="421">1523</text><text x="145.84" y="421">1623</text><text x="163.62" y="421">1723</text><text x="181.39" y="421">1823</text><text x="199.17" y="421">1923</text><text x="216.94" y="421">2023</text><text x="234.72" y="421">2123</text><text x="252.49" y="421">2223</text><text x="56.97" y="439">1122</text><text x="74.75" y="439">1222</text><text x="92.52" y="439">1322</text><text x="110.30" y="439">1422</text><text x="128.07" y="439">1522</text><text x="145.84" y="439">1622</text><text x="163.62" y="439">1722</text><text x="181.39" y="439">1822</text><text x="199.17" y="439">1922</text><text x="216.94" y="439">2022</text><text x="234.72" y="439">2122</text><text x="252.49" y="439">2222</text><text x="74.75" y="456">1221</text><text x="92.52" y="456">1321</text><text x="110.30" y="456">1421</text><text x="128.07" y="456">1521</text><text x="145.84" y="456">1621</text><text x="163.62" y="456">1721</text><text x="181.39" y="456">1821</text><text x="199.17" y="456">1921</text><text x="216.94" y="456">2021</text><text x="234.72" y="456">2121</text><text x="252.49" y="456">2221</text><text x="92.52" y="474">1320</text><text x="110.30" y="474">1420</text><text x="128.07" y="474">1520</text><text x="145.84" y="474">1620</text><text x="163.62" y="474">1720</text><text x="181.39" y="474">1820</text><text x="199.17" y="474">1920</text><text x="216.94" y="474">2020</text><text x="234.72" y="474">2120</text><text x="252.49" y="474">2220</text><text x="128.07" y="492">1519</text><text x="145.84" y="492">1619</text><text x="163.62" y="492">1719</text><text x="181.39" y="492">1819</text><text x="199.17" y="492">1919</text><text x="145.84" y="510">1618</text><text x="163.62" y="510">1718</text><text x="181.39" y="510">1818</text><text x="199.17" y="510">1918</text><text x="163.62" y="528">1717</text><text x="181.39" y="528">1817</text></g>
</g>
<path d="M137.5 333.5L136.5 337M136.5 350.5L129.7 354.4M120 352.2L109 351.2M97.9 350.5L97.9 356M98.5 370L91.5 370M83 370L77 376M72.2 386.5L66.9 392.8M61.2 403.5L60.9 412M70 422.5L70.5 424.5M74.1 434L74.1 438.5M12.4 442L23.4 442M32.2 442L43.9 442M52.6 442L63.6 442M73.1 441.8L84.1 442M87.3 445.7L93.6 453.1M102.4 458.4L113.6 467.4M120.4 475.5L130.7 481.3M149.7 495.6L158.3 502.9M164.4 509L173.5 516M179.6 520L182.5 522M188.7 530L197.2 530M192.3 530L192.3 532M190.4 512L201.4 512M192.3 512.6L197.5 522.3M213 474.6L213 476.6M213 484L213 486M213 493.5L213 495.5M213 501.6L213 503.6M213 511.3L213 513M211.2 467.1L222.9 467.1M233.5 468L235 468.5M258 422.4L258 429.2M258 440L258 448.7M258 457.5L258 467.3M258 410.3L267.7 407.4M277.5 404.2L280 403.8M295.7 395.7L305.4 392M311 339.7L311 343.4M311 358.5L311 360.5M311 368L311 370M311 387L311 389.6M646.8 351.3L646.8 361.6M496.5 334L496.5 343.5" stroke="#000" stroke-width="2" fill="none"/>
<g fill="none" stroke="#000"><polyline points="310.5,334 496.5,334 496.5,339" stroke-dasharray="11.5 8.4" stroke-dashoffset="0" stroke-width="2"/><polyline points="495.6,351.6 646.5,351.6" stroke-dasharray="11 8.9" stroke-dashoffset="0" stroke-width="1.6"/><polyline points="646.5,368 692.6,368" stroke-dasharray="11.7 8.3" stroke-dashoffset="0" stroke-width="2"/><polyline points="692.6,367.2 804,366.6" stroke-dasharray="11.5 8.4" stroke-dashoffset="0" stroke-width="2"/></g>
<path d="M375.5 142V267M375.5 285V339M535.5 107V267M535.5 285V357M695.5 178V267M695.5 285V357" stroke="#000" stroke-width="1" fill="none"/>
<g fill="none" stroke="#000" stroke-width="3" stroke-linejoin="miter"><polyline points="10,185.5 25,185.5 25,184.5 229.5,184.5"/><polyline points="738.6,333.3 625,333.5 585.5,334"/><polyline points="10,270 486,269 486,268 720.5,267.5"/><polyline points="585,268 585,334"/><polyline points="360.5,269 360.5,476 361.5,476 361.5,544.5"/><polyline points="252,176 252,544.5"/><polyline points="135,270 135,534.5"/><polyline points="10,484.5 135,484.5"/></g>
<g fill="none" stroke="#000" stroke-width="3.7" stroke-linejoin="round"><polyline points="229.5,184.5 237.5,177 246,177 252,176.3 340,171.2 416,167.2 486.3,108.9 535.5,131.8 600,161.5 641.4,179.8 678,196.9 695,204 705,208.5 708,213 712.6,233.7 738.6,333.3"/><polyline points="585,334 539.6,440.4 362.8,544.5"/><polyline points="131.5,545.3 135,534 138,535 152.6,541 168,532.5 178,532.5 185.5,537 196.5,537 209.6,525 218.4,523.3 226,521.2 249,544.5"/></g>
<g><polygon points="152.60,361.90 153.83,364.70 156.88,365.01 154.60,367.05 155.25,370.04 152.60,368.50 149.95,370.04 150.60,367.05 148.32,365.01 151.37,364.70" fill="#000"/><circle cx="152.6" cy="365.8" r="1.15" fill="#f00"/><polygon points="241.60,379.60 242.83,382.40 245.88,382.71 243.60,384.75 244.25,387.74 241.60,386.20 238.95,387.74 239.60,384.75 237.32,382.71 240.37,382.40" fill="#000"/><circle cx="241.6" cy="383.5" r="1.15" fill="#f00"/><polygon points="283.50,201.50 284.73,204.30 287.78,204.61 285.50,206.65 286.15,209.64 283.50,208.10 280.85,209.64 281.50,206.65 279.22,204.61 282.27,204.30" fill="#000"/><circle cx="283.5" cy="205.4" r="1.15" fill="#f00"/><polygon points="555.60,236.50 556.83,239.30 559.88,239.61 557.60,241.65 558.25,244.64 555.60,243.10 552.95,244.64 553.60,241.65 551.32,239.61 554.37,239.30" fill="#000"/><circle cx="555.6" cy="240.4" r="1.15" fill="#f00"/><polygon points="561.50,242.60 562.73,245.40 565.78,245.71 563.50,247.75 564.15,250.74 561.50,249.20 558.85,250.74 559.50,247.75 557.22,245.71 560.27,245.40" fill="#000"/><circle cx="561.5" cy="246.5" r="1.15" fill="#f00"/><polygon points="715.50,290.50 716.73,293.30 719.78,293.61 717.50,295.65 718.15,298.64 715.50,297.10 712.85,298.64 713.50,295.65 711.22,293.61 714.27,293.30" fill="#000"/><circle cx="715.5" cy="294.4" r="1.15" fill="#f00"/><polygon points="727.60,290.50 728.83,293.30 731.88,293.61 729.60,295.65 730.25,298.64 727.60,297.10 724.95,298.64 725.60,295.65 723.32,293.61 726.37,293.30" fill="#000"/><circle cx="727.6" cy="294.4" r="1.15" fill="#f00"/></g>
</svg>
<div class="t" style="left:66.75px;top:12.7px;font-size:38px;transform:scaleX(0.953);">Traps Catching Zero Flies</div>
<div class="t" style="left:477.9px;top:12px;font-size:38px;transform:scaleX(0.98);">03/07/05 - 03/18/05</div>
<div class="t" style="left:245.6px;top:564.7px;font-size:38px;transform:scaleX(0.962);">San Bernardino County</div>
</body></html>
